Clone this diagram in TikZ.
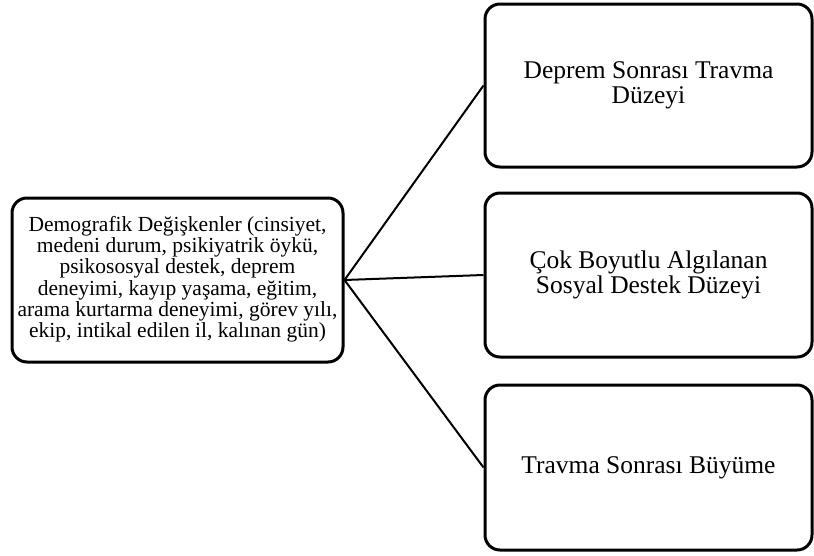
\documentclass[tikz,border=0pt]{standalone}
\usepackage{fontspec}
\setmainfont{Liberation Serif}
\begin{document}
\begin{tikzpicture}[x=1pt,y=-1pt,
  box/.style={draw=black, line width=3pt, rounded corners=15pt, align=center, inner sep=0pt},
  conn/.style={draw=black, line width=2pt}]
\useasboundingbox (0,0) rectangle (814,555);
\node[box, minimum width=331pt, minimum height=164pt, font=\fontsize{21.5}{20.4}\selectfont] (demo) at (177.5,280)
  {\raisebox{-3pt}{\begin{tabular}{@{}c@{}}Demografik Değişkenler (cinsiyet,\\ medeni durum, psikiyatrik öykü,\\ psikososyal destek, deprem\\ deneyimi, kayıp yaşama, eğitim,\\ arama kurtarma deneyimi, görev yılı,\\ ekip, intikal edilen il, kalınan gün)\end{tabular}}};
\node[box, minimum width=327pt, minimum height=163pt, font=\fontsize{25.5}{25}\selectfont] (trauma) at (648.5,85.5)
  {Deprem Sonrası Travma\\ Düzeyi};
\node[box, minimum width=327pt, minimum height=164pt, font=\fontsize{25.5}{25}\selectfont] (support) at (648.5,275)
  {Çok Boyutlu Algılanan\\ Sosyal Destek Düzeyi};
\node[box, minimum width=327pt, minimum height=165pt, font=\fontsize{25.5}{25}\selectfont] (growth) at (648.5,467.5)
  {Travma Sonrası Büyüme};
\draw[conn] (demo.east) -- (trauma.west);
\draw[conn] (demo.east) -- (support.west);
\draw[conn] (demo.east) -- (growth.west);
\end{tikzpicture}
\end{document}
